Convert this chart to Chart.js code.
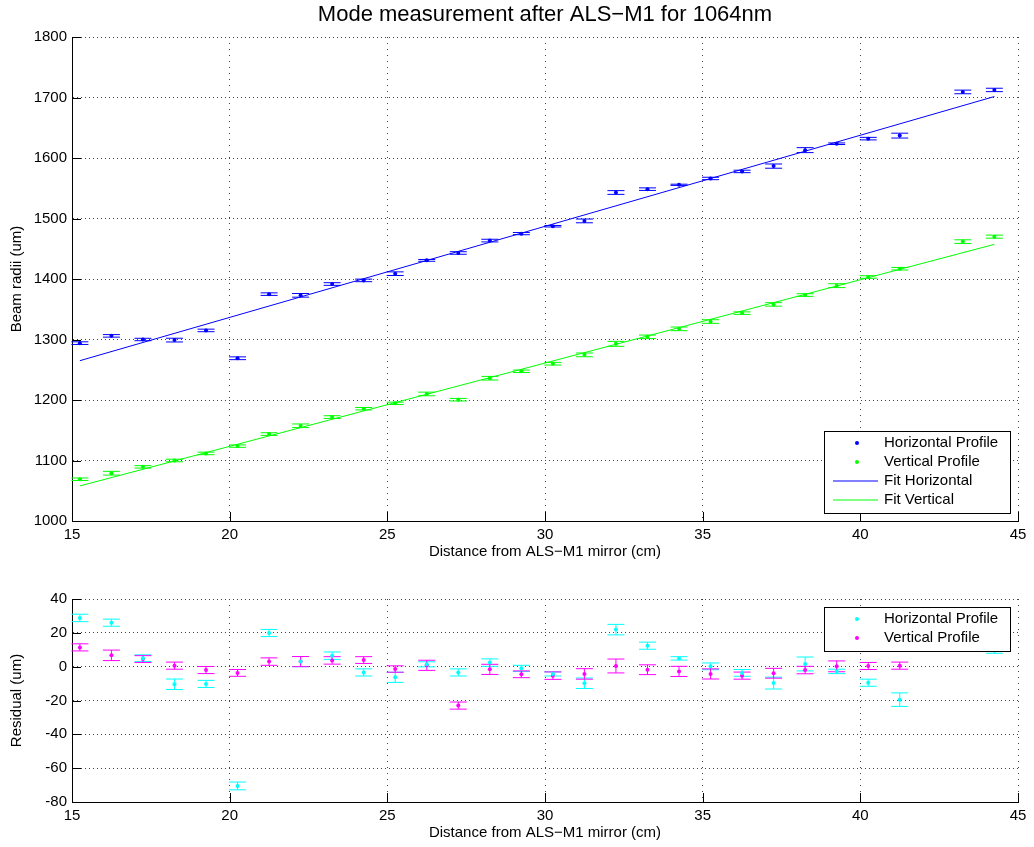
<!DOCTYPE html>
<html>
<head>
<meta charset="utf-8">
<title>Mode measurement after ALS−M1 for 1064nm</title>
<script src="https://cdn.jsdelivr.net/npm/chart.js@4.4.0/dist/chart.umd.min.js"></script>
<style>
  html, body { margin: 0; padding: 0; background: #fff; }
  #wrap { position: relative; width: 1034px; height: 847px; }
  canvas { position: absolute; left: 0; }
  #top { top: 0; }
  #bottom { top: 570px; }
</style>
</head>
<body>
<div id="wrap">
  <canvas id="top" width="1034" height="570"></canvas>
  <canvas id="bottom" width="1034" height="277"></canvas>
</div>
<script>
// distance from the mirror (cm), one entry per measurement (42.25 was not measured)
const distance = [15.25, 16.25, 17.25, 18.25, 19.25, 20.25, 21.25, 22.25, 23.25, 24.25,
  25.25, 26.25, 27.25, 28.25, 29.25, 30.25, 31.25, 32.25, 33.25, 34.25,
  35.25, 36.25, 37.25, 38.25, 39.25, 40.25, 41.25, 43.25, 44.25];

// beam radii (um)
const horizRadius = [1294, 1306, 1300, 1299, 1315, 1269, 1375, 1373, 1391.7, 1397.7,
  1408.8, 1430.8, 1443, 1463.5, 1475, 1487.2, 1496, 1543, 1548.5, 1555.7,
  1566.2, 1577.8, 1586.6, 1613, 1623.6, 1632, 1637, 1709.2, 1712.5];
const vertRadius = [1069, 1079, 1089.5, 1100, 1111.7, 1123.8, 1143.7, 1157.4, 1171.8, 1185.6,
  1194.5, 1210, 1200.5, 1236, 1247.5, 1260, 1274.6, 1292.8, 1304.4, 1317.6,
  1329.7, 1343.6, 1358, 1373.5, 1389, 1403.3, 1417, 1461.8, 1470];

// half-length of the error bars (um)
const horizErr = [2.2, 2.1, 2, 3.1, 2.1, 2.3, 2.1, 3, 2.2, 2.1, 3, 1.5, 2.1, 2.2, 1.8,
  1.2, 3.1, 3.1, 2.1, 1, 2, 2, 3.5, 4.1, 1.3, 2.1, 4, 3, 2.8];
const vertErr = [2.1, 3.1, 2, 2.1, 2.1, 2, 2.2, 3, 2.2, 2, 1.9, 3, 2.1, 3, 2, 2.2,
  3.1, 4.1, 2.9, 3, 3, 2.1, 2.9, 2.2, 3.2, 2.1, 2.1, 3, 2.5];

// fitted lines, end points
const fitDistance = [15.25, 44.25];
const fitHoriz = [1265, 1701.6];
const fitVert = [1058, 1457.3];

// residuals (um)
const residHoriz = [28.8, 26, 5, -10.4, -10.2, -70.5, 19.9, 3, 6.5, -3.4, -6.3, 1.4, -3.4,
  2.4, -1, -4.3, -9.8, 21.9, 12.4, 4.9, 0.2, -3.7, -9.7, 1.6, -2.8, -9.5, -19.5, 22.5, 10.7];
const residVert = [11.4, 6.7, 4.5, 0.6, -2, -3.7, 3, 3, 3.7, 3.9, -1.4, 0.8, -23, -1.6,
  -4.5, -5.3, -4.3, 0.4, -1.8, -2.8, -4.3, -5.3, -3.9, -2, 0.2, 0.4, 0.6, 18.2, 12.6];

// tick labels
const distanceTicks = [15, 20, 25, 30, 35, 40, 45];
const radiusTicks = [1000, 1100, 1200, 1300, 1400, 1500, 1600, 1700, 1800];
const residTicks = [-80, -60, -40, -20, 0, 20, 40];

const FONT = "'Liberation Sans', Arial, Helvetica, sans-serif";
const TICK_LEN = 9;
const CAP = 8.5;

const pts = (xs, ys) => xs.map((x, i) => ({ x, y: ys[i] }));

// matlab-like error bars, drawn under the dots (left anti-aliased like the original)
const errorBars = {
  id: 'errorBars',
  beforeDatasetsDraw(chart) {
    const { ctx, scales: { x, y } } = chart;
    ctx.save();
    ctx.lineWidth = 1;
    chart.data.datasets.forEach((ds) => {
      if (!ds.errors) return;
      ctx.strokeStyle = ds.backgroundColor;
      ctx.beginPath();
      ds.data.forEach((p, i) => {
        const px = x.getPixelForValue(p.x);
        const y1 = y.getPixelForValue(p.y - ds.errors[i]);
        const y2 = y.getPixelForValue(p.y + ds.errors[i]);
        ctx.moveTo(px, y1); ctx.lineTo(px, y2);
        ctx.moveTo(px - CAP, y1); ctx.lineTo(px + CAP, y1);
        ctx.moveTo(px - CAP, y2); ctx.lineTo(px + CAP, y2);
      });
      ctx.stroke();
    });
    ctx.restore();
  },
};

// inward ticks + boxed legend inside the axes
const matlabLook = {
  id: 'matlabLook',
  afterDatasetsDraw(chart, args, opts) {
    const { ctx, chartArea: a, scales: { x, y } } = chart;
    ctx.save();
    ctx.strokeStyle = '#000';
    ctx.lineWidth = 1;
    ctx.beginPath();
    x.ticks.forEach((t) => {
      const px = Math.round(x.getPixelForValue(t.value)) + 0.5;
      ctx.moveTo(px, a.bottom); ctx.lineTo(px, a.bottom - TICK_LEN);
    });
    y.ticks.forEach((t) => {
      const py = Math.round(y.getPixelForValue(t.value)) + 0.5;
      ctx.moveTo(a.left, py); ctx.lineTo(a.left + TICK_LEN, py);
    });
    ctx.stroke();

    const items = chart.data.datasets.filter((d) => d.label);
    const w = 186, h = 19 * items.length + 6;
    const left = Math.round(a.right - 8 - w);
    const top = Math.round(opts.corner === 'top' ? a.top + 8 : a.bottom - 8 - h);
    ctx.fillStyle = '#fff';
    ctx.fillRect(left, top, w, h);
    ctx.strokeRect(left + 0.5, top + 0.5, w, h);
    ctx.font = '15px ' + FONT;
    ctx.textBaseline = 'middle';
    items.forEach((d, k) => {
      const cy = top + 12 + 19 * k;
      if (d.showLine) {
        ctx.strokeStyle = d.borderColor;
        ctx.beginPath(); ctx.moveTo(left + 9, cy); ctx.lineTo(left + 54, cy); ctx.stroke();
      } else {
        ctx.fillStyle = d.backgroundColor;
        ctx.beginPath(); ctx.arc(left + 33, cy, 2, 0, Math.PI * 2); ctx.fill();
      }
      ctx.fillStyle = '#000';
      ctx.fillText(d.label, left + 60, cy);
    });
    ctx.restore();
  },
};

function dots(label, xs, ys, errs, color) {
  return {
    label, data: pts(xs, ys), errors: errs,
    backgroundColor: color, borderColor: color,
    pointRadius: 2, pointBorderWidth: 0, showLine: false,
  };
}

function fitLine(label, ys, color) {
  return {
    label, data: pts(fitDistance, ys),
    borderColor: color, backgroundColor: color, borderWidth: 1,
    pointRadius: 0, showLine: true,
  };
}

function axis(tickList, min, max, title, extra) {
  return Object.assign({
    type: 'linear', min, max,
    afterBuildTicks: (s) => { s.ticks = tickList.map((v) => ({ value: v })); },
    grid: { color: '#444', lineWidth: 1, drawTicks: false },
    border: { display: true, color: '#000', width: 1 },
    ticks: { color: '#000', font: { family: FONT, size: 15 }, padding: 5, maxRotation: 0,
      callback: (v) => String(v) },
    title: { display: true, text: title, color: '#000', font: { family: FONT, size: 15 } },
  }, extra);
}

function xAxis(height, titlePad) {
  const a = axis(distanceTicks, 15, 45, 'Distance from ALS−M1 mirror (cm)', {
    afterFit: (s) => { s.height = height; },
  });
  a.border.dash = [1, 5];
  a.title.padding = { top: 0, bottom: titlePad };
  return a;
}

function yAxis(tickList, title) {
  const a = axis(tickList, tickList[0], tickList[tickList.length - 1], title, {
    afterFit: (s) => { s.width = 72; },
  });
  a.border.dash = [1, 3];
  a.title.padding = { top: 8, bottom: 0 };
  return a;
}

const base = {
  responsive: false,
  animation: false,
  events: [],
};

new Chart(document.getElementById('top'), {
  type: 'scatter',
  data: {
    datasets: [
      dots('Horizontal Profile', distance, horizRadius, horizErr, '#0000ff'),
      dots('Vertical Profile', distance, vertRadius, vertErr, '#00ff00'),
      fitLine('Fit Horizontal', fitHoriz, '#0000ff'),
      fitLine('Fit Vertical', fitVert, '#00ff00'),
    ],
  },
  options: Object.assign({}, base, {
    layout: { padding: { left: 0, right: 16, top: 0, bottom: 0 } },
    plugins: {
      legend: { display: false },
      tooltip: { enabled: false },
      title: {
        display: true, fullSize: false,
        text: 'Mode measurement after ALS−M1 for 1064nm',
        color: '#000', font: { family: FONT, size: 22, weight: 'normal' },
        padding: { top: 2, bottom: 8.6 },
      },
      matlabLook: { corner: 'bottom' },
    },
    scales: { x: xAxis(49, 9), y: yAxis(radiusTicks, 'Beam radii (um)') },
  }),
  plugins: [errorBars, matlabLook],
});

new Chart(document.getElementById('bottom'), {
  type: 'scatter',
  data: {
    datasets: [
      dots('Horizontal Profile', distance, residHoriz, horizErr, '#00ffff'),
      dots('Vertical Profile', distance, residVert, vertErr, '#ff00ff'),
    ],
  },
  options: Object.assign({}, base, {
    layout: { padding: { left: 0, right: 16, top: 29, bottom: 0 } },
    plugins: {
      legend: { display: false },
      tooltip: { enabled: false },
      matlabLook: { corner: 'top' },
    },
    scales: { x: xAxis(45, 5), y: yAxis(residTicks, 'Residual (um)') },
  }),
  plugins: [errorBars, matlabLook],
});
</script>
</body>
</html>
